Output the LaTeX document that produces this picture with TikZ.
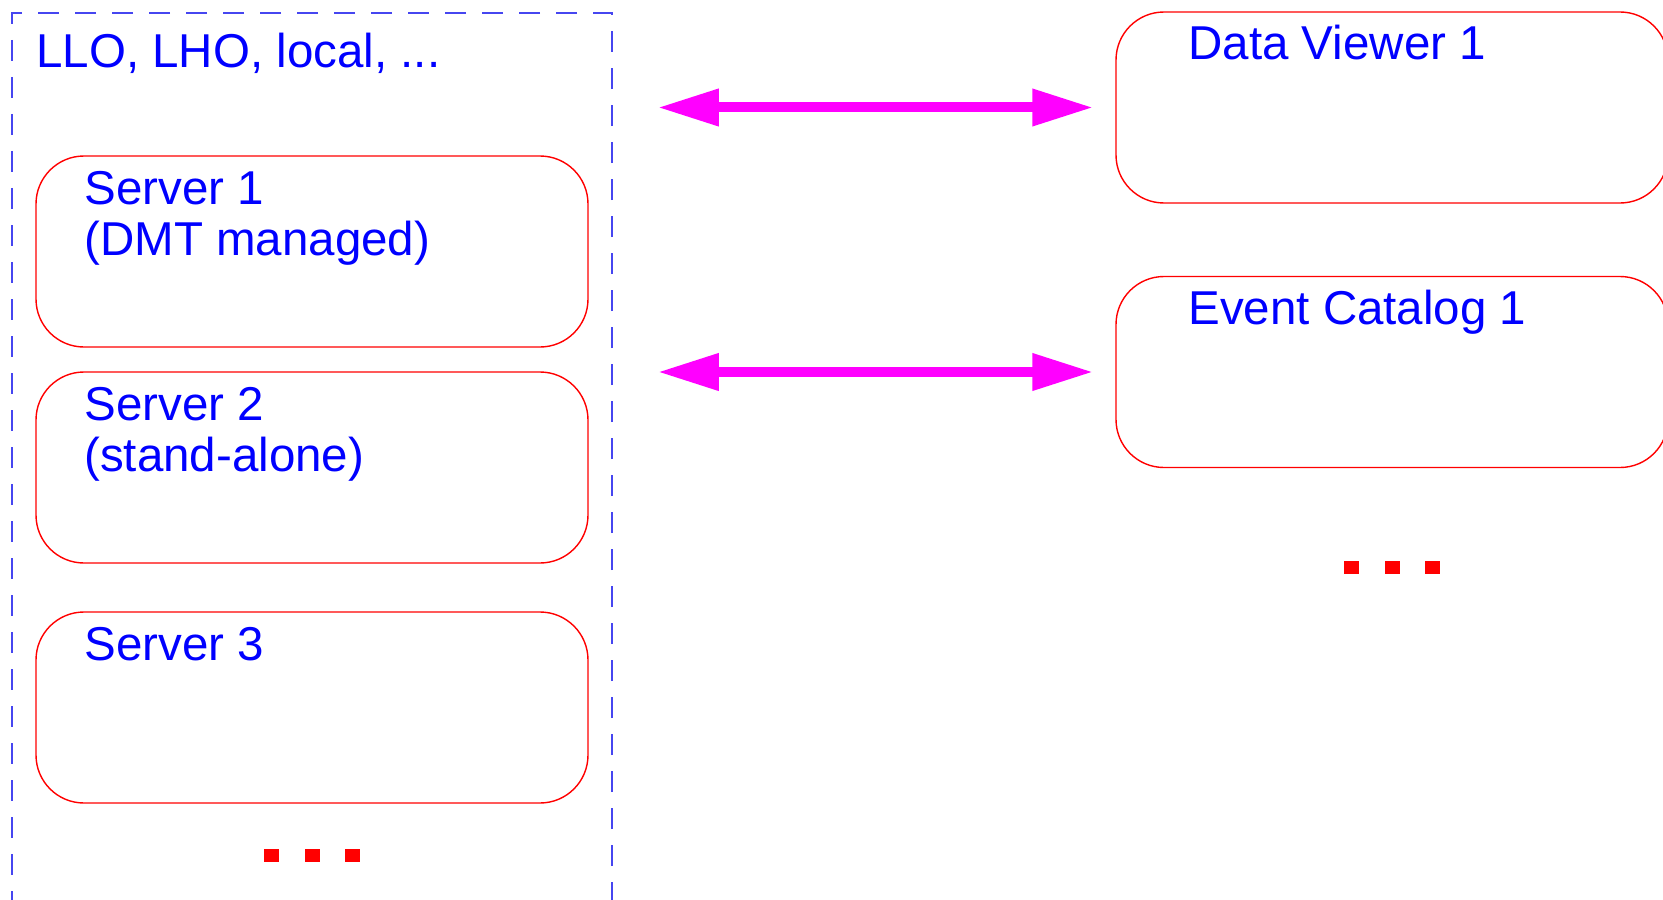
\documentclass[tikz,border=0pt]{standalone}
\usepackage{fontspec}
\setmainfont{Liberation Sans}
\usetikzlibrary{arrows.meta}
\definecolor{txtblue}{RGB}{0,0,255}
\definecolor{boxred}{RGB}{255,0,0}
\definecolor{dashblue}{RGB}{70,70,240}
\definecolor{arrmag}{RGB}{255,0,255}
\begin{document}
\begin{tikzpicture}[x=0.5pt,y=-0.5pt,
  box/.style={draw=boxred, line width=0.7pt, rounded corners=24pt, minimum width=276pt, minimum height=95.5pt, inner sep=0pt},
  groupbox/.style={draw=dashblue, line width=0.75pt, dash pattern=on 10.5pt off 8pt, dash phase=4.5pt, minimum width=300pt, minimum height=473.5pt, inner sep=0pt},
  lbl/.style={text=txtblue, font=\fontsize{23.75pt}{25.5pt}\selectfont, inner sep=0pt, anchor=base west},
  conn/.style={draw=arrmag, line width=5pt, {Triangle[length=30.5pt,width=17.5pt]}-{Triangle[length=30.5pt,width=17.5pt]}},
  dot/.style={fill=boxred, minimum width=7.5pt, minimum height=6.5pt, inner sep=0pt}]
\useasboundingbox (0,0) rectangle (1663,899);
% group box (extends below the page)
\node[groupbox] (grp) at (312,486.5) {};
% boxes
\node[box] (s1) at (312,251.5) {};
\node[box] (s2) at (312,467.5) {};
\node[box] (s3) at (312,707.5) {};
\node[box] (dv) at (1392,107.5) {};
\node[box] (ec) at (1392,372) {};
% labels
\node[lbl] (title) at (36,68) {LLO, LHO, local, ...};
\node[lbl] (s1t) at (84,204) {\vtop{\hbox{Server 1}\hbox{(DMT managed)}}};
\node[lbl] (s2t) at (84,420) {\vtop{\hbox{Server 2}\hbox{(stand-alone)}}};
\node[lbl] (s3t) at (84,660) {Server 3};
\node[lbl] (dvt) at (1188,60) {Data Viewer 1};
\node[lbl] (ect) at (1188,324) {Event Catalog 1};
% connectors
\draw[conn, shorten <=22.5pt, shorten >=11pt] (grp.east |- dv.west) -- (dv.west);
\draw[conn, shorten <=22.5pt, shorten >=11pt] (grp.east |- ec.west) -- (ec.west);
% dots
\node[dot] (ld1) at (271.5,855) {};
\node[dot] (ld2) at (312.5,855) {};
\node[dot] (ld3) at (352.5,855) {};
\node[dot] (rd1) at (1351.5,567) {};
\node[dot] (rd2) at (1392.5,567) {};
\node[dot] (rd3) at (1432.5,567) {};
\end{tikzpicture}
\end{document}
